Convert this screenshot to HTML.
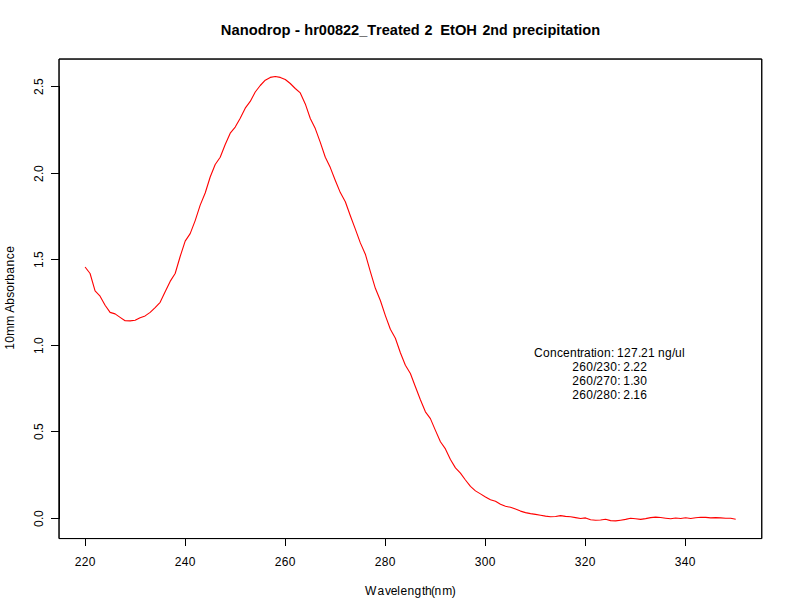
<!DOCTYPE html>
<html><head><meta charset="utf-8"><title>Nanodrop</title>
<style>
html,body{margin:0;padding:0;background:#fff;}
body{width:792px;height:612px;overflow:hidden;}
svg{display:block;}
text{font-kerning:none;font-feature-settings:"kern" 0,"liga" 0;font-family:"Liberation Sans",sans-serif;fill:#000;}
.t12{font-size:12px;}
.tt{font-size:14.4px;font-weight:bold;}
</style></head><body>
<svg width="792" height="612" viewBox="0 0 792 612">
<rect x="0" y="0" width="792" height="612" fill="#fff"/>
<polyline points="85.07,267.0 90.07,273.5 95.08,290.9 100.08,296.2 105.09,305.3 110.09,312.4 115.10,313.9 120.10,317.4 125.11,320.8 130.12,320.9 135.12,320.3 140.12,317.7 145.13,315.9 150.13,312.4 155.14,307.6 160.14,302.3 165.15,291.7 170.15,281.4 175.16,273.5 180.16,256.5 185.17,241.1 190.18,233.6 195.18,220.6 200.19,205.1 205.19,193.0 210.19,177.0 215.20,164.5 220.20,157.3 225.21,144.5 230.22,133.2 235.22,127.1 240.22,118.3 245.23,108.2 250.23,101.4 255.24,92.0 260.25,85.5 265.25,80.2 270.25,77.4 275.26,76.5 280.26,77.4 285.27,79.5 290.27,83.5 295.28,88.5 300.28,92.9 305.29,103.9 310.29,118.5 315.30,128.6 320.30,142.4 325.31,157.2 330.31,167.6 335.32,180.5 340.32,192.6 345.33,201.8 350.33,215.8 355.34,229.1 360.34,242.9 365.35,254.2 370.35,271.7 375.36,288.3 380.37,300.5 385.37,315.6 390.38,329.2 395.38,338.3 400.38,352.7 405.39,365.2 410.39,373.5 415.40,386.8 420.40,399.7 425.41,411.8 430.41,418.6 435.42,430.4 440.43,441.8 445.43,448.9 450.44,459.5 455.44,467.9 460.44,473.2 465.45,480.0 470.45,486.4 475.46,490.9 480.46,493.9 485.47,497.0 490.47,499.7 495.48,501.2 500.48,504.2 505.49,506.2 510.50,507.3 515.50,509.1 520.50,511.1 525.51,512.6 530.51,513.6 535.52,514.4 540.52,515.2 545.53,516.1 550.53,516.7 555.54,516.5 560.54,515.6 565.55,516.4 570.56,516.8 575.56,517.6 580.57,518.5 585.57,517.9 590.58,519.8 595.58,520.3 600.59,520.0 605.59,519.2 610.60,520.6 615.60,520.9 620.61,520.2 625.61,519.4 630.62,518.3 635.62,518.8 640.62,519.4 645.63,518.6 650.63,517.6 655.64,517.1 660.64,517.5 665.65,518.2 670.65,518.8 675.66,518.0 680.66,518.5 685.67,517.7 690.67,518.5 695.68,517.7 700.68,517.3 705.69,517.4 710.69,517.9 715.70,517.6 720.70,517.9 725.71,518.3 730.71,518.3 735.72,519.2" fill="none" stroke="#ff0000" stroke-width="1.1" stroke-linejoin="round" stroke-linecap="butt"/>
<rect x="59.04" y="59.04" width="702.72" height="479.52" fill="none" stroke="#000" stroke-width="1" stroke-linejoin="round"/>
<rect x="59.04" y="59.04" width="702.72" height="479.52" fill="none" stroke="#000" stroke-width="1" stroke-linejoin="round"/>
<g stroke="#000" stroke-width="1" shape-rendering="crispEdges">
<line x1="59.5" y1="86" x2="59.5" y2="519"/>
<line x1="85" y1="538.5" x2="686" y2="538.5"/>
<line x1="51" y1="86.5" x2="59" y2="86.5"/>
<line x1="51" y1="173.5" x2="59" y2="173.5"/>
<line x1="51" y1="259.5" x2="59" y2="259.5"/>
<line x1="51" y1="345.5" x2="59" y2="345.5"/>
<line x1="51" y1="431.5" x2="59" y2="431.5"/>
<line x1="51" y1="518.5" x2="59" y2="518.5"/>
<line x1="85.5" y1="538" x2="85.5" y2="546"/>
<line x1="185.5" y1="538" x2="185.5" y2="546"/>
<line x1="285.5" y1="538" x2="285.5" y2="546"/>
<line x1="385.5" y1="538" x2="385.5" y2="546"/>
<line x1="485.5" y1="538" x2="485.5" y2="546"/>
<line x1="585.5" y1="538" x2="585.5" y2="546"/>
<line x1="685.5" y1="538" x2="685.5" y2="546"/>
</g>
<text class="t12" transform="translate(43.3,95.0) rotate(-90)" x="0 7 10" y="0">2.5</text>
<text class="t12" transform="translate(43.3,182.0) rotate(-90)" x="0 7 10" y="0">2.0</text>
<text class="t12" transform="translate(43.3,268.0) rotate(-90)" x="0 7 10" y="0">1.5</text>
<text class="t12" transform="translate(43.3,354.0) rotate(-90)" x="0 7 10" y="0">1.0</text>
<text class="t12" transform="translate(43.3,440.0) rotate(-90)" x="0 7 10" y="0">0.5</text>
<text class="t12" transform="translate(43.3,527.0) rotate(-90)" x="0 7 10" y="0">0.0</text>
<text class="t12" x="74.80 81.80 88.80" y="566">220</text>
<text class="t12" x="174.80 181.80 188.80" y="566">240</text>
<text class="t12" x="274.80 281.80 288.80" y="566">260</text>
<text class="t12" x="374.80 381.80 388.80" y="566">280</text>
<text class="t12" x="474.80 481.80 488.80" y="566">300</text>
<text class="t12" x="574.80 581.80 588.80" y="566">320</text>
<text class="t12" x="674.80 681.80 688.80" y="566">340</text>
<text class="t12" x="365.00 377.50 384.90 390.70 397.20 400.50 407.50 414.50 422.10 424.90 431.05 434.60 442.20 451.80" y="594.8">Wavelength(nm)</text>
<text class="t12" transform="translate(14.1,349.8) rotate(-90)" x="0 7 14 24 34 37 45 52 58 65 69 76 83.3 90.6 97.0" y="0">10mm Absorbance</text>
<text class="tt" transform="translate(220.86,34.8) scale(1.0235,1.05)">Nanodrop</text>
<text class="tt" transform="translate(294.82,34.8) scale(1.1214,1.05)">-</text>
<text class="tt" transform="translate(304.29,34.8) scale(1.0092,1.05)">hr00822_Treated</text>
<text class="tt" transform="translate(424.55,34.8) scale(0.9953,1.05)">2</text>
<text class="tt" transform="translate(440.16,34.8) scale(1.0245,1.05)">EtOH</text>
<text class="tt" transform="translate(482.46,34.8) scale(0.9854,1.05)">2nd</text>
<text class="tt" transform="translate(512.49,34.8) scale(1.0158,1.05)">precipitation</text>
<text class="t12" x="534.00 543.00 550.00 557.00 563.00 570.00 577.00 580.00 584.00 591.00 594.00 597.00 604.00 611.00 614.00 617.00 624.00 631.00 638.00 641.00 648.00 655.00 658.00 665.00 672.00 675.00 682.00" y="356.8">Concentration: 127.21 ng/ul</text>
<text class="t12" x="572.20 579.20 586.20 593.20 596.20 603.20 610.20 617.20 620.20 623.20 630.20 633.20 640.20" y="371.0">260/230: 2.22</text>
<text class="t12" x="572.20 579.20 586.20 593.20 596.20 603.20 610.20 617.20 620.20 623.20 630.20 633.20 640.20" y="385.0">260/270: 1.30</text>
<text class="t12" x="572.20 579.20 586.20 593.20 596.20 603.20 610.20 617.20 620.20 623.20 630.20 633.20 640.20" y="399.2">260/280: 2.16</text>
</svg></body></html>
